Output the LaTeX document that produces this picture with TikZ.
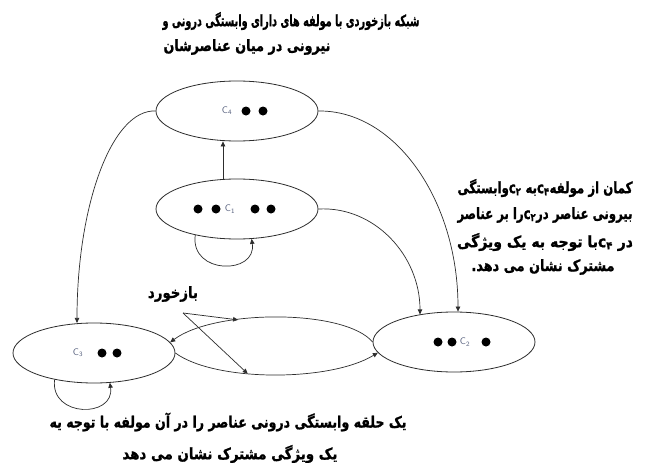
\documentclass[tikz,border=0pt]{standalone}
\usepackage{fontspec}
\usepackage{graphicx}
\usetikzlibrary{shapes.geometric,arrows.meta,calc}
\newfontfamily\fa[Script=Arabic, BoldFeatures={FakeBold=1.2}]{DejaVu Sans}
\TeXXeTstate=1
\definecolor{clab}{RGB}{85,95,125}
\definecolor{ln}{RGB}{45,45,45}
\newcommand{\fw}[2]{\resizebox{#1}{1.2\height}{#2}}
\begin{document}
\begin{tikzpicture}[x=1pt,y=-1pt,
  comp/.style={draw=ln, line width=0.8pt, ellipse, minimum width=162pt, minimum height=60pt, inner sep=0pt},
  link/.style={draw=ln, line width=0.7pt, -{Triangle[length=5pt,width=4.5pt]}},
  clbl/.style={font=\sffamily\fontsize{9.5}{9.5}\selectfont, text=clab, inner sep=0pt},
  fatext/.style={font=\fa\bfseries\fontsize{13}{15}\selectfont, inner sep=0pt, align=center},
  bdot/.style={circle, fill=black, inner sep=0pt, minimum size=9pt}
]
\useasboundingbox (0,0) rectangle (646,463);
\fill[white] (0,0) rectangle (646,463);

% components
\node[comp] (c4) at (237,111) {};
\node[comp] (c1) at (237,209) {};
\node[comp] (c3) at (94,353) {};
\node[comp] (c2) at (454,342) {};

% labels and dots
\node[clbl] (l4) at (227,111) {C\textsubscript{4}};
\node[bdot] (d41) at (246,111) {};
\node[bdot] (d42) at (263,111) {};

\node[bdot] (d11) at (198,209) {};
\node[bdot] (d12) at (216,209) {};
\node[clbl] (l1) at (230,209) {C\textsubscript{1}};
\node[bdot] (d13) at (255,209) {};
\node[bdot] (d14) at (271,209) {};

\node[clbl] (l3) at (78,353) {C\textsubscript{3}};
\node[bdot] (d31) at (102,353) {};
\node[bdot] (d32) at (117,353) {};

\node[bdot] (d21) at (438,342) {};
\node[bdot] (d22) at (452,342) {};
\node[clbl] (l2) at (465,342) {C\textsubscript{2}};
\node[bdot] (d23) at (486,342) {};

% connectors
\draw[link] ($(c1.north)+(-14,0)$) -- ($(c4.south)+(-14,0)$);
\draw[link] (c4.west) .. controls (112,109) and (77,205) .. ($(c3.north)+(-17,0.3)$);
\draw[link] (c4.east) .. controls (395,110) and (458,200) .. ($(c2.north)+(4,0)$);
\draw[link] (c1.east) .. controls (374,206) and (420,255) .. ($(c2.north)+(-34,2.8)$);
\draw[link] (c1.212) .. controls (190,275) and (257,275) .. (c1.296);
\draw[link] (c3.214) .. controls (50,418) and (115,418) .. (c3.298);
\draw[link] (c2.west) .. controls (345,309) and (215,309) .. coordinate[pos=0.66] (up) (c3.8);
\draw[link] (c3.east) .. controls (215,382) and (330,382) .. coordinate[pos=0.39] (lo) (c2.188);

% feedback label and pointers
\node[fatext] (fb) at (173,294) {\fw{50pt}{\beginR بازخورد\endR}};
\coordinate (fbp) at (183,313);
\draw[link] (fbp) -- (up);
\draw[link] (fbp) -- (lo);

% texts
\node[fatext] (t1) at (291,21) {\fw{257pt}{\beginR شبکه بازخوردی با مولفه های دارای وابستگی درونی و\endR}};
\node[fatext] (t2) at (247,47) {\fw{167pt}{\beginR نیرونی در میان عناصرشان\endR}};

\node[fatext] (r1) at (545,188) {\fw{175pt}{\beginR کمان از مولفه\beginL c\textsubscript{۴}\endL به \beginL c\textsubscript{۲}\endL وابستگی\endR}};
\node[fatext] (r2) at (545,215) {\fw{175pt}{\beginR بیرونی عناصر در\beginL c\textsubscript{۲}\endL را بر عناصر\endR}};
\node[fatext] (r3) at (545,242) {\fw{176pt}{\beginR در \beginL c\textsubscript{۴}\endL با توجه به یک ویژگی\endR}};
\node[fatext] (r4) at (543,267) {\fw{143pt}{\beginR مشترک نشان می دهد.\endR}};

\node[fatext] (b1) at (228,422) {\fw{357pt}{\beginR یک حلقه وابستگی درونی عناصر را در آن مولفه با توجه یه\endR}};
\node[fatext] (b2) at (230,454) {\fw{215pt}{\beginR یک ویژگی مشترک نشان می دهد\endR}};
\end{tikzpicture}
\end{document}
